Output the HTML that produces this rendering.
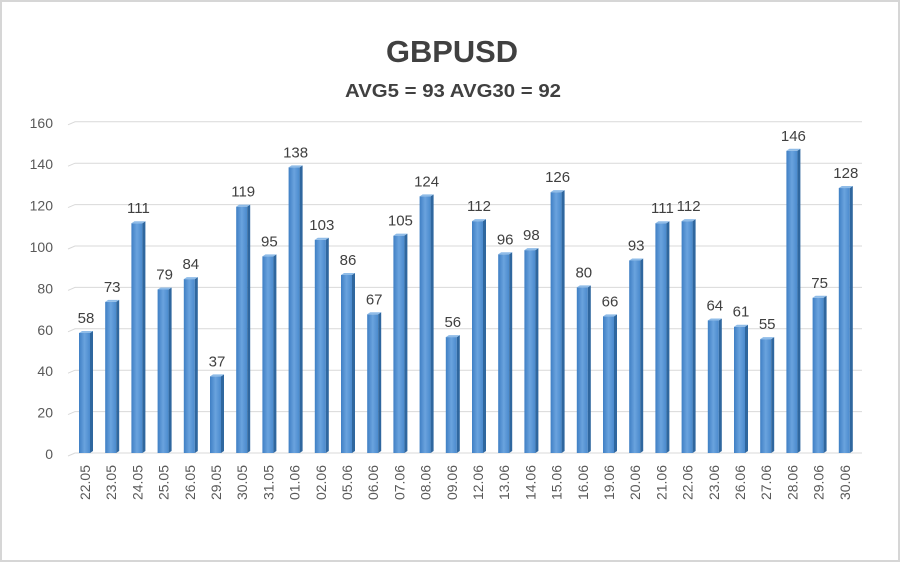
<!DOCTYPE html>
<html><head><meta charset="utf-8"><style>
body{margin:0;background:#fff}
svg{display:block}
text{font-family:"Liberation Sans",sans-serif}
</style></head><body>
<svg width="900" height="562" viewBox="0 0 900 562" xmlns="http://www.w3.org/2000/svg">
<defs>
<linearGradient id="g" x1="0" x2="1" y1="0" y2="0">
<stop offset="0" stop-color="#3f7fc4"/><stop offset="0.5" stop-color="#6aa3de"/><stop offset="1" stop-color="#4a8acd"/>
</linearGradient>
</defs>
<rect x="1" y="1" width="898" height="560" fill="#fff" stroke="#d6d6d6" stroke-width="2"/>
<text x="452" y="62" text-anchor="middle" font-size="31" font-weight="bold" fill="#404040" textLength="132" lengthAdjust="spacingAndGlyphs">GBPUSD</text>
<text x="453" y="97" text-anchor="middle" font-size="18" font-weight="bold" fill="#404040" textLength="216" lengthAdjust="spacingAndGlyphs">AVG5 = 93 AVG30 = 92</text>
<g id="grid" stroke="#d9d9d9" stroke-width="1" fill="none"></g>
<g id="ylab" font-size="14" fill="#595959" text-anchor="end"></g>
<g id="bars"></g>
<g id="xlab" font-size="14" fill="#595959"></g>
</svg>
<script>
const vals=[58,73,111,79,84,37,119,95,138,103,86,67,105,124,56,112,96,98,126,80,66,93,111,112,64,61,55,146,75,128];
const labs=["22.05","23.05","24.05","25.05","26.05","29.05","30.05","31.05","01.06","02.06","05.06","06.06","07.06","08.06","09.06","12.06","13.06","14.06","15.06","16.06","19.06","20.06","21.06","22.06","23.06","26.06","27.06","28.06","29.06","30.06"];
const ns="http://www.w3.org/2000/svg";
function el(t,a,p,txt){const e=document.createElementNS(ns,t);for(const k in a)e.setAttribute(k,a[k]);if(txt!==undefined)e.textContent=txt;document.getElementById(p).appendChild(e);return e;}
const y0=453,k=2.07;
for(let v=0;v<=160;v+=20){const y=y0-v*k;
el("path",{d:`M68 ${y+3} L75 ${y} L862 ${y}`},"grid");
el("text",{x:53,y:y+6},"ylab",v);}
vals.forEach((v,i)=>{const cx=85+i*26.2,x=cx-6,w=11,h=v*k,top=y0-h;
el("rect",{x:x,y:top,width:w,height:h,fill:"url(#g)"},"bars");
el("path",{d:`M${x+w} ${top} L${x+w+3} ${top-2} L${x+w+3} ${y0-2} L${x+w} ${y0} Z`,fill:"#2f679f"},"bars");
el("path",{d:`M${x} ${top} L${x+3} ${top-2} L${x+w+3} ${top-2} L${x+w} ${top} Z`,fill:"#8fbce8"},"bars");
el("text",{x:cx+1,y:top-10,"font-size":15,fill:"#404040","text-anchor":"middle"},"bars",v);
el("text",{x:0,y:0,transform:`translate(${cx+5},${y0+12}) rotate(-90)`,"text-anchor":"end"},"xlab",labs[i]);
});
</script>
</body></html>
